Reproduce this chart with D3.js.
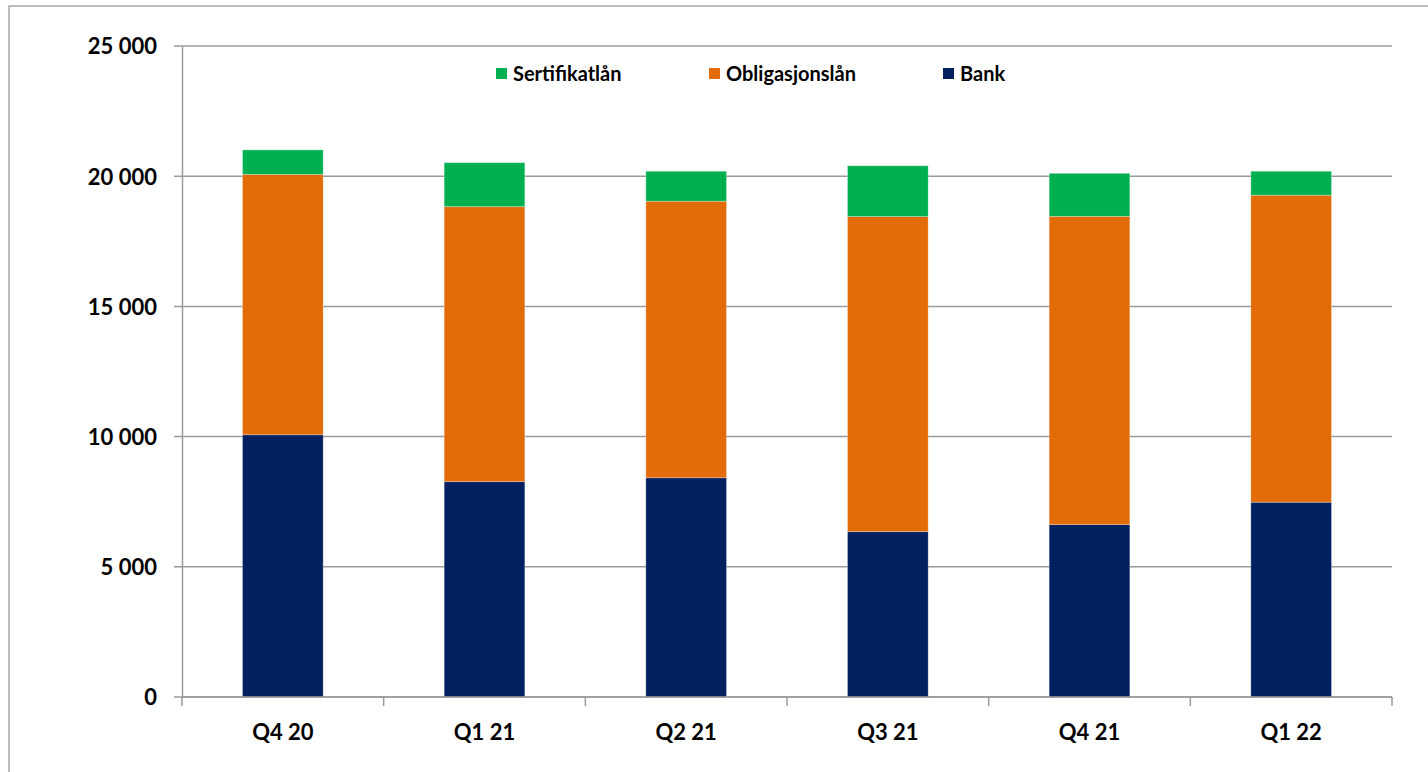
<!DOCTYPE html>
<html>
<head>
<meta charset="utf-8">
<script src="https://cdn.jsdelivr.net/npm/d3@7"></script>
<style>
  body { margin: 0; background: #fff; }
  svg text { font-family: Lato, "Open Sans", sans-serif; font-weight: bold; fill: #000; }
</style>
</head>
<body>
<div id="chart-area"></div>
<script>
const quarters = ["Q4 20", "Q1 21", "Q2 21", "Q3 21", "Q4 21", "Q1 22"];
const bank = [10070, 8270, 8420, 6350, 6620, 7480];
const obligasjonslan = [10000, 10560, 10620, 12100, 11840, 11790];
const sertifikatlan = [940, 1690, 1150, 1950, 1650, 920];
const yTicks = [0, 5000, 10000, 15000, 20000, 25000];
const seriesNames = ["Bank", "Obligasjonslån", "Sertifikatlån"];
const legendOrder = ["Sertifikatlån", "Obligasjonslån", "Bank"];

const colors = {
    "Bank": "#002060",
    "Obligasjonslån": "#E36C0A",
    "Sertifikatlån": "#00B050"
};

const margin = { left: 182, right: 36, top: 46, bottom: 75 };
const chartSize = { width: 1428, height: 772 };
const width = chartSize.width - margin.left - margin.right;
const height = chartSize.height - margin.top - margin.bottom;

const rows = quarters.map((q, i) => ({
    quarter: q,
    "Bank": bank[i],
    "Obligasjonslån": obligasjonslan[i],
    "Sertifikatlån": sertifikatlan[i]
}));

const svg = d3.select("#chart-area").append("svg")
    .attr("width", chartSize.width)
    .attr("height", chartSize.height);

// outer frame, runs off the right and bottom edge
svg.append("rect")
    .attr("x", 9).attr("y", 6)
    .attr("width", 1440).attr("height", 800)
    .attr("fill", "none")
    .attr("stroke", "#a6a6a6")
    .attr("stroke-width", 1.5);

const g = svg.append("g").attr("transform", `translate(${margin.left}, ${margin.top})`);

const x = d3.scaleBand().domain(quarters).range([0, width]).paddingInner(0.6).paddingOuter(0.3);
const y = d3.scaleLinear().domain([0, 25000]).range([height, 0]);

// gridlines
g.append("g")
    .selectAll("line")
    .data(yTicks)
    .join("line")
    .attr("x1", -8).attr("x2", width)
    .attr("y1", d => y(d)).attr("y2", d => y(d))
    .attr("stroke", "#9a9a9a")
    .attr("stroke-width", 1.5);

const stack = d3.stack().keys(seriesNames);
const layers = stack(rows);

g.selectAll(".layer")
    .data(layers)
    .join("g")
    .attr("class", "layer")
    .attr("fill", d => colors[d.key])
    .selectAll("rect")
    .data(d => d)
    .join("rect")
    .attr("x", d => x(d.data.quarter))
    .attr("y", d => y(d[1]))
    .attr("width", x.bandwidth())
    .attr("height", d => y(d[0]) - y(d[1]))
    .attr("stroke", "#ffffff")
    .attr("stroke-opacity", 0.35)
    .attr("stroke-width", 0.8);

// y axis
const yAxis = d3.axisLeft(y).tickValues(yTicks)
    .tickFormat(d => d3.format(",")(d).replace(/,/g, " "))
    .tickSize(0).tickPadding(25);
const yg = g.append("g").call(yAxis);
yg.select(".domain").attr("stroke", "#9a9a9a").attr("stroke-width", 1.5);
yg.selectAll("text").attr("font-size", 22).attr("dy", "0.36em");

// x axis
const xAxis = d3.axisBottom(x).tickSize(0).tickPadding(27);
const xg = g.append("g").attr("transform", `translate(0, ${height})`).call(xAxis);
xg.select(".domain").remove();
xg.append("line")
    .attr("x1", 0).attr("x2", width)
    .attr("stroke", "#9a9a9a").attr("stroke-width", 1.5);
xg.selectAll("text").attr("font-size", 22);

// category separators
const edges = d3.range(quarters.length + 1).map(i => i * x.step());
xg.selectAll(".sep")
    .data(edges)
    .join("line")
    .attr("class", "sep")
    .attr("x1", d => d).attr("x2", d => d)
    .attr("y1", 0).attr("y2", 9)
    .attr("stroke", "#9a9a9a").attr("stroke-width", 1.5);

// legend
const legendX = [496, 709, 943];
const legend = svg.append("g")
    .selectAll("g")
    .data(legendOrder)
    .join("g")
    .attr("transform", (d, i) => `translate(${legendX[i]}, 68)`);
legend.append("rect")
    .attr("width", 11).attr("height", 11)
    .attr("fill", d => colors[d]);
legend.append("text")
    .attr("x", 17).attr("y", 13)
    .attr("font-size", 20)
    .text(d => d);
</script>
</body>
</html>
